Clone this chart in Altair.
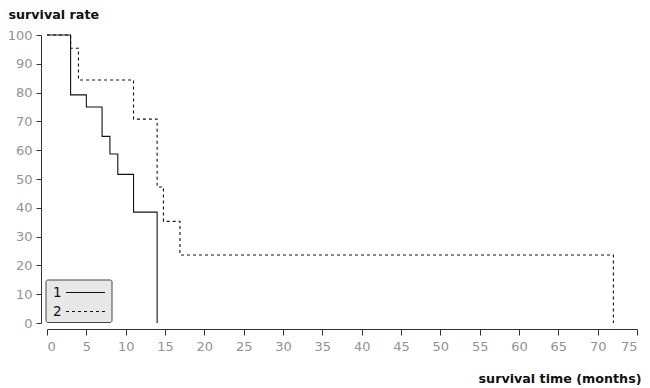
import altair as alt
import pandas as pd

# group 1 (solid)
t1 = [0, 3, 5, 7, 8, 9, 11, 14]
s1 = [100, 79.2, 75.0, 64.8, 58.7, 51.6, 38.5, 0]
# group 2 (dashed)
t2 = [0, 3, 4, 11, 14, 14.8, 16.9, 72]
s2 = [100, 95.4, 84.4, 70.8, 47.2, 35.3, 23.6, 0]

groups = ["1", "2"]
x_ticks = list(range(0, 80, 5))
y_ticks = list(range(0, 110, 10))

rows = []
for i, (t, s) in enumerate(zip(t1, s1)):
    rows.append({"group": groups[0], "t": t, "s": s, "o": i})
for i, (t, s) in enumerate(zip(t2, s2)):
    rows.append({"group": groups[1], "t": t, "s": s, "o": i})
df = pd.DataFrame(rows)
leg_df = pd.DataFrame({"group": groups})

FONT = "DejaVu Sans"

x_enc = alt.X("t:Q", scale=alt.Scale(domain=[0, 75], nice=False),
              axis=alt.Axis(values=x_ticks, title="survival time (months)", offset=6,
                            tickSize=6, labelPadding=5, grid=False,
                            titleAnchor="end", titleAlign="right", titleX=594, titleY=53.5,
                            titleBaseline="alphabetic"))
y_enc = alt.Y("s:Q", scale=alt.Scale(domain=[0, 100], nice=False),
              axis=alt.Axis(values=y_ticks, title="survival rate", offset=6,
                            tickSize=5, labelPadding=4, grid=False,
                            titleAngle=0, titleAlign="left", titleX=-33, titleY=-16.5,
                            titleBaseline="alphabetic"))
dash_enc = alt.StrokeDash("group:N",
                          scale=alt.Scale(domain=groups, range=[[1, 0], [3, 3]]),
                          legend=None)

base = alt.Chart(df)
line2 = base.transform_filter(alt.datum.group == groups[1]).mark_line(
    interpolate="step-after", strokeWidth=1.1, color="#111").encode(
    x=x_enc, y=y_enc, strokeDash=dash_enc, order="o:Q")
line1 = base.transform_filter(alt.datum.group == groups[0]).mark_line(
    interpolate="step-after", strokeWidth=1.1, color="#111").encode(
    x=x_enc, y=y_enc, strokeDash=dash_enc, order="o:Q")

leg_box = alt.Chart(leg_df).transform_filter(alt.datum.group == groups[0]).mark_rect(
    fill="#e8e8e8", stroke="#444", strokeWidth=1, cornerRadius=2
).encode(x=alt.value(-1), x2=alt.value(65), y=alt.value(245), y2=alt.value(287.5))

leg_items = []
for g, ypix, dash in [(groups[0], 257.5, [1, 0]), (groups[1], 276.5, [3, 3])]:
    b = alt.Chart(leg_df).transform_filter(alt.datum.group == g)
    leg_items.append(b.mark_text(align="left", baseline="middle", font=FONT, fontSize=13.5,
                                 color="#111").encode(
        text="group:N", x=alt.value(6), y=alt.value(ypix)))
    leg_items.append(b.mark_rule(color="#111", strokeWidth=1.1, strokeDash=dash).encode(
        x=alt.value(19), x2=alt.value(58), y=alt.value(ypix)))

chart = alt.layer(line2, line1, leg_box, *leg_items).properties(
    width=590, height=288,
    autosize=alt.AutoSizeParams(type="none"),
    padding={"left": 39, "top": 27, "right": 5, "bottom": 62},
).configure_view(stroke=None).configure_axis(
    domainColor="#333", tickColor="#333", labelColor="#929292",
    labelFont=FONT, labelFontSize=13,
    titleFont=FONT, titleFontSize=12.7, titleFontWeight="bold", titleColor="#111",
)

chart.save("out.html", embed_options={"renderer": "svg", "actions": False})
